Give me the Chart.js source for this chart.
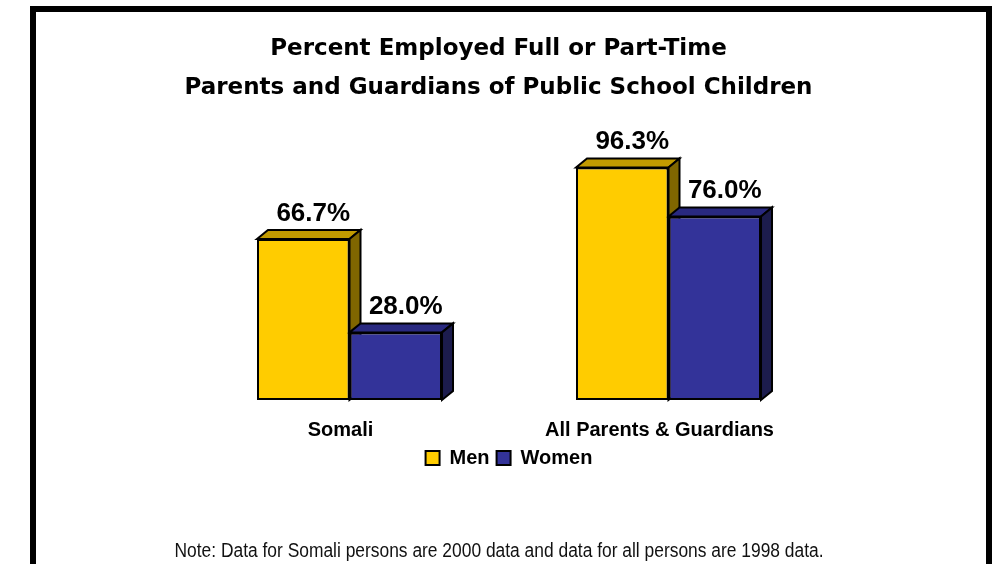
<!DOCTYPE html>
<html>
<head>
<meta charset="utf-8">
<script src="https://cdn.jsdelivr.net/npm/chart.js@4"></script>
<style>
  html, body { margin: 0; padding: 0; background: #fff; overflow: hidden; }
  #wrap { position: relative; width: 997px; height: 564px; }
  #frame {
    position: absolute; left: 30px; top: 6px; width: 962px; height: 620px;
    border: 6px solid #000; box-sizing: border-box; pointer-events: none;
  }
</style>
</head>
<body>
<div id="wrap">
  <canvas id="chart"></canvas>
  <div id="frame"></div>
</div>
<script>
// Chart data
const categories = ["Somali", "All Parents & Guardians"];
const menValues = [66.7, 96.3];
const womenValues = [28.0, 76.0];
const seriesNames = ["Men", "Women"];
const titleLines = ["Percent Employed Full or Part-Time", "Parents and Guardians of Public School Children"];
const noteText = "Note: Data for Somali persons are 2000 data and data for all persons are 1998 data.";

// Face colours: front, top, side
const shades = [
  { front: "#FFCC00", top: "#C29B00", side: "#806600" },
  { front: "#333399", top: "#292980", side: "#1C1C4D" }
];
const DEPTH_X = 11;
const DEPTH_Y = 9;
const NOTE_SQUEEZE = 0.87; // the note is set in a narrow face

// Draws the top and side faces of each bar, then lets Chart.js draw the fronts
const bar3d = {
  id: "bar3d",
  beforeDatasetsDraw(chart) {
    const ctx = chart.ctx;
    ctx.save();
    ctx.lineWidth = 2;
    ctx.strokeStyle = "#000";
    ctx.lineJoin = "miter";
    chart.data.datasets.forEach((ds, i) => {
      const meta = chart.getDatasetMeta(i);
      meta.data.forEach(bar => {
        const left = bar.x - bar.width / 2;
        const right = bar.x + bar.width / 2;
        const top = bar.y;
        const base = bar.base;
        // top face
        ctx.beginPath();
        ctx.moveTo(left, top);
        ctx.lineTo(left + DEPTH_X, top - DEPTH_Y);
        ctx.lineTo(right + DEPTH_X, top - DEPTH_Y);
        ctx.lineTo(right, top);
        ctx.closePath();
        ctx.fillStyle = shades[i].top;
        ctx.fill();
        ctx.stroke();
        // side face
        ctx.beginPath();
        ctx.moveTo(right, top);
        ctx.lineTo(right + DEPTH_X, top - DEPTH_Y);
        ctx.lineTo(right + DEPTH_X, base - DEPTH_Y);
        ctx.lineTo(right, base);
        ctx.closePath();
        ctx.fillStyle = shades[i].side;
        ctx.fill();
        ctx.stroke();
      });
    });
    ctx.restore();
  },
  afterDatasetsDraw(chart) {
    const ctx = chart.ctx;
    ctx.save();
    ctx.font = "bold 26px 'Liberation Sans', Arial, sans-serif";
    ctx.fillStyle = "#000";
    ctx.textAlign = "center";
    ctx.textBaseline = "alphabetic";
    chart.data.datasets.forEach((ds, i) => {
      const meta = chart.getDatasetMeta(i);
      meta.data.forEach((bar, j) => {
        const label = ds.data[j].toFixed(1) + "%";
        ctx.fillText(label, bar.x + 10, bar.y - 18);
      });
    });
    ctx.restore();
  },
  afterDraw(chart) {
    // footnote under the legend
    const ctx = chart.ctx;
    ctx.save();
    ctx.font = "20px 'Liberation Sans', Arial, sans-serif";
    ctx.fillStyle = "#111";
    ctx.textAlign = "center";
    ctx.textBaseline = "alphabetic";
    ctx.translate(499, 557);
    ctx.scale(NOTE_SQUEEZE, 1);
    ctx.fillText(noteText, 0, 0);
    ctx.restore();
  }
};

const ctx = document.getElementById("chart").getContext("2d");

new Chart(ctx, {
  type: "bar",
  data: {
    labels: categories,
    datasets: [
      {
        label: seriesNames[0],
        data: menValues,
        backgroundColor: shades[0].front,
        borderColor: "#000",
        borderWidth: 2,
        borderSkipped: false
      },
      {
        label: seriesNames[1],
        data: womenValues,
        backgroundColor: shades[1].front,
        borderColor: "#000",
        borderWidth: 2,
        borderSkipped: false
      }
    ]
  },
  options: {
    responsive: true,
    maintainAspectRatio: false,
    animation: false,
    layout: { padding: { bottom: 86 } },
    datasets: {
      bar: { categoryPercentage: 0.58, barPercentage: 1.0 }
    },
    scales: {
      x: {
        grid: { display: false, drawTicks: false },
        border: { display: false },
        ticks: {
          color: "#000",
          padding: 18,
          labelOffset: -9,
          font: { family: "'Liberation Sans', Arial, sans-serif", size: 20, weight: "bold" }
        },
        afterFit(scale) { scale.height = 41; }
      },
      y: {
        min: 0,
        max: 100,
        grid: { display: false, drawTicks: false },
        border: { display: false },
        ticks: { display: false },
        afterFit(scale) { scale.width = 190; }
      },
      yRight: {
        position: "right",
        grid: { display: false, drawTicks: false },
        border: { display: false },
        ticks: { display: false },
        afterFit(scale) { scale.width = 169; }
      }
    },
    plugins: {
      title: {
        display: true,
        text: titleLines,
        color: "#000",
        font: { family: "'DejaVu Sans', sans-serif", size: 23, weight: "bold", lineHeight: 39 / 23 },
        padding: { top: 29.5, bottom: 51 }
      },
      legend: {
        position: "bottom",
        fullSize: false,
        labels: {
          color: "#000",
          boxWidth: 14,
          boxHeight: 14,
          padding: 7,
          font: { family: "'Liberation Sans', Arial, sans-serif", size: 20, weight: "bold" }
        }
      },
      tooltip: { enabled: false }
    }
  },
  plugins: [bar3d]
});
</script>
</body>
</html>
